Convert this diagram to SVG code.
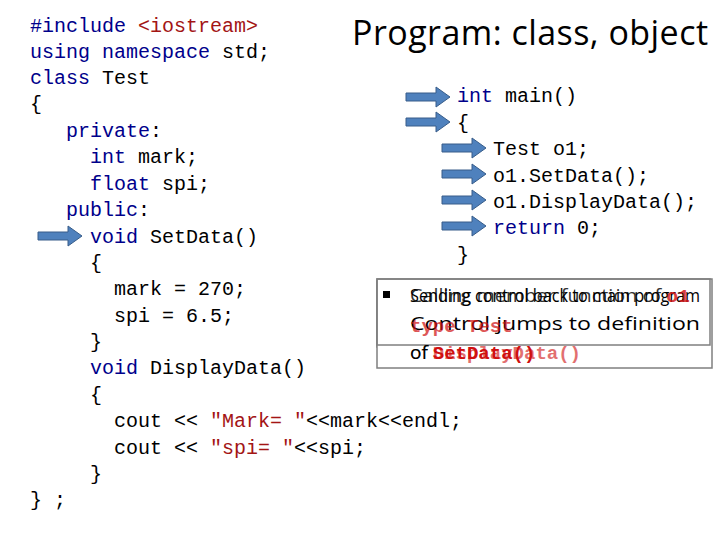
<svg xmlns="http://www.w3.org/2000/svg" width="720" height="540" viewBox="0 0 720 540">
<defs>
<style>
.c{font-family:"Liberation Mono",monospace;font-size:20px;fill:#000}
.k{fill:#00008B}.s{fill:#A31515}
.t{font-family:"Open Sans","Liberation Sans",sans-serif;font-size:19px;fill:#000}
.r{font-family:"Liberation Mono",monospace;font-size:19px;font-weight:bold;fill:#D01010}
.box{fill:#fff;stroke:#7f7f7f;stroke-width:1.5}
</style>
<path id="ar" d="M0,-4 H30 V-10 L44,0 L30,10 V4 H0 Z" fill="#4F81BD" stroke="#385D8A" stroke-width="1"/>
</defs>
<rect width="720" height="540" fill="#fff"/>
<g id="title"><text x="352" y="45" font-family="Open Sans,Liberation Sans,sans-serif" font-size="34" textLength="356">Program: class, object</text></g>
<g id="code-left">
<text class="c" x="30" y="32"><tspan class="k">#include</tspan> <tspan class="s">&lt;iostream&gt;</tspan></text>
<text class="c" x="30" y="58"><tspan class="k">using namespace</tspan> std;</text>
<text class="c" x="30" y="84"><tspan class="k">class</tspan> Test</text>
<text class="c" x="30" y="110">{</text>
<text class="c" x="66" y="137"><tspan class="k">private</tspan>:</text>
<text class="c" x="90" y="163"><tspan class="k">int</tspan> mark;</text>
<text class="c" x="90" y="190"><tspan class="k">float</tspan> spi;</text>
<text class="c" x="66" y="216"><tspan class="k">public</tspan>:</text>
<text class="c" x="90" y="243"><tspan class="k">void</tspan> SetData()</text>
<text class="c" x="90" y="269">{</text>
<text class="c" x="114" y="295">mark = 270;</text>
<text class="c" x="114" y="322">spi = 6.5;</text>
<text class="c" x="90" y="348">}</text>
<text class="c" x="90" y="374"><tspan class="k">void</tspan> DisplayData()</text>
<text class="c" x="90" y="401">{</text>
<text class="c" x="114" y="427">cout &lt;&lt; <tspan class="s">"Mark= "</tspan>&lt;&lt;mark&lt;&lt;endl;</text>
<text class="c" x="114" y="454">cout &lt;&lt; <tspan class="s">"spi= "</tspan>&lt;&lt;spi;</text>
<text class="c" x="90" y="480">}</text>
<text class="c" x="30" y="506">} ;</text>
</g>
<g id="code-main">
<text class="c" x="457" y="102"><tspan class="k">int</tspan> main()</text>
<text class="c" x="457" y="129">{</text>
<text class="c" x="493" y="155">Test o1;</text>
<text class="c" x="493" y="182">o1.SetData();</text>
<text class="c" x="493" y="208">o1.DisplayData();</text>
<text class="c" x="493" y="234"><tspan class="k">return</tspan> 0;</text>
<text class="c" x="457" y="261">}</text>
</g>
<g id="arrows">
<use href="#ar" x="38" y="236"/>
<use href="#ar" x="406" y="97"/>
<use href="#ar" x="406" y="122"/>
<use href="#ar" x="442" y="148"/>
<use href="#ar" x="442" y="174"/>
<use href="#ar" x="442" y="200"/>
<use href="#ar" x="442" y="226"/>
</g>
<g id="note">
<rect class="box" x="377" y="281" width="333" height="66"/>
<rect class="box" x="377" y="279" width="335" height="89"/>
<rect class="box" x="377" y="279" width="333" height="66" fill-opacity="0"/>
<rect x="383" y="291" width="7" height="7" fill="#000"/>
<text class="t" x="410" y="302" textLength="290" lengthAdjust="spacingAndGlyphs">Sending control back to main program</text>
<text class="t" x="410" y="302" opacity="0.8" textLength="280" lengthAdjust="spacingAndGlyphs">Calling member function of <tspan class="r">o1</tspan></text>
<text class="t" x="410" y="330" textLength="290" lengthAdjust="spacingAndGlyphs">Control jumps to definition</text>
<text class="r" x="410" y="332" opacity="0.7">type Test</text>
<text class="t" x="410" y="359">of <tspan class="r">SetData()</tspan></text>
<text class="t" x="410" y="359" opacity="0.6">of <tspan class="r">DisplayData()</tspan></text>
</g>
</svg>
